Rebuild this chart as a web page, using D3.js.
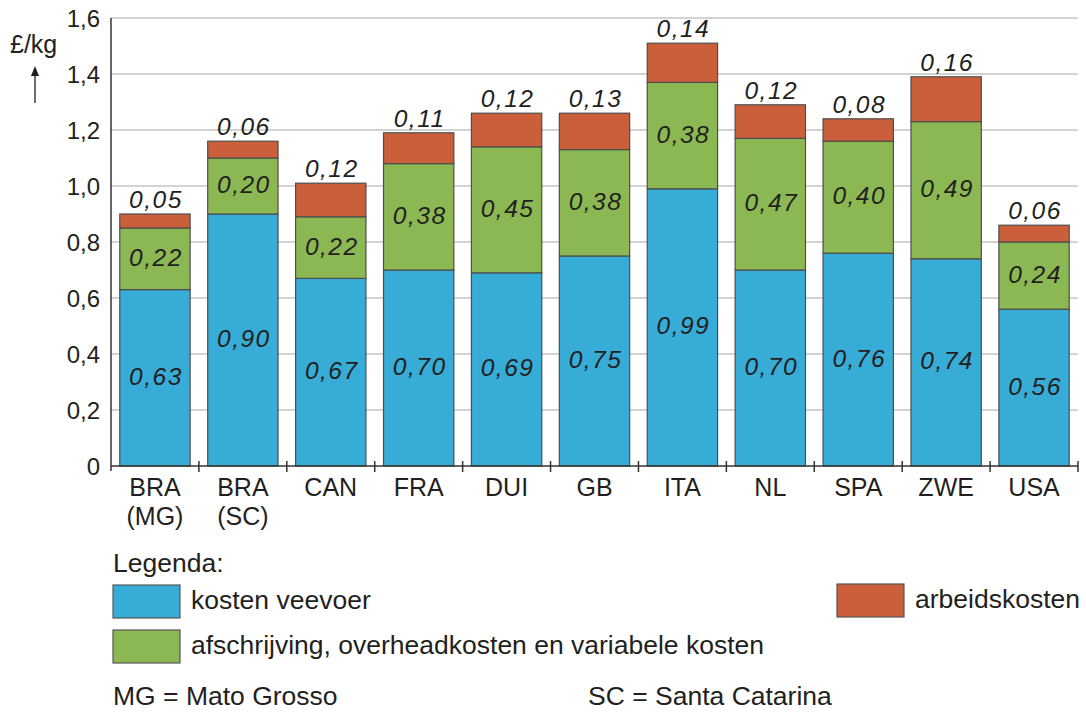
<!DOCTYPE html>
<html><head><meta charset="utf-8">
<script src="https://cdn.jsdelivr.net/npm/d3@7"></script>
<style>
body{margin:0;background:#fff;}
text{font-family:"Liberation Sans",Arial,sans-serif;fill:#231f20;}
</style></head>
<body><svg id="c" width="1086" height="713"></svg>
<script>
const categories = ["BRA\n(MG)","BRA\n(SC)","CAN","FRA","DUI","GB","ITA","NL","SPA","ZWE","USA"];
const veevoer = [0.63,0.90,0.67,0.70,0.69,0.75,0.99,0.70,0.76,0.74,0.56];
const afschrijving = [0.22,0.20,0.22,0.38,0.45,0.38,0.38,0.47,0.40,0.49,0.24];
const arbeid = [0.05,0.06,0.12,0.11,0.12,0.13,0.14,0.12,0.08,0.16,0.06];
const yTicks = [0,0.2,0.4,0.6,0.8,1.0,1.2,1.4,1.6];
const seriesNames = ["kosten veevoer","afschrijving, overheadkosten en variabele kosten","arbeidskosten"];
const colors = ["#37acd6","#8cb853","#cb5f3b"];

(function(){
const svg = d3.select("#c");
const pL = 111, pR = 1078, pT = 18, pB = 466;
const x = d3.scaleBand().domain(categories).range([pL,pR]).paddingInner(0.2).paddingOuter(0.1);
const y = d3.scaleLinear().domain([0,1.6]).range([pB,pT]);
const fmt = v => v.toFixed(2).replace(".",",");
const fmtTick = v => v===0 ? "0" : v.toFixed(1).replace(".",",");

// gridlines
svg.append("g").selectAll("line").data(yTicks.filter(d=>d>0)).join("line")
  .attr("x1",pL).attr("x2",pR).attr("y1",d=>y(d)).attr("y2",d=>y(d))
  .attr("stroke","#a8a8a8").attr("stroke-width",1.2);

// y tick labels
svg.append("g").selectAll("text").data(yTicks).join("text")
  .attr("x",100).attr("y",d=>y(d)+9).attr("text-anchor","end")
  .style("font-size","24px").text(fmtTick);

// stacked bars
const data = categories.map((c,i)=>({c, v:[veevoer[i],afschrijving[i],arbeid[i]]}));
const g = svg.append("g");
data.forEach(d=>{
  let base = 0;
  d.v.forEach((v,k)=>{
    g.append("rect").attr("x",x(d.c)).attr("width",x.bandwidth())
      .attr("y",y(base+v)).attr("height",y(base)-y(base+v))
      .attr("fill",colors[k]).attr("stroke","#4d4d4d").attr("stroke-width",1.2);
    const cx = x(d.c)+x.bandwidth()/2 + 1;
    const ty = k<2 ? (y(base)+y(base+v))/2+7 : y(base+v)-6;
    g.append("text").attr("x",cx).attr("y",ty)
      .attr("text-anchor","middle").style("font-size","24.5px").style("font-style","italic")
      .style("letter-spacing","1.5px").text(fmt(v));
    base += v;
  });
});

// axes lines
svg.append("line").attr("x1",pL).attr("x2",pL).attr("y1",pT).attr("y2",pB+5)
  .attr("stroke","#333").attr("stroke-width",1.5);
svg.append("line").attr("x1",pL).attr("x2",pR).attr("y1",pB).attr("y2",pB)
  .attr("stroke","#333").attr("stroke-width",1.5);
const bounds = d3.range(categories.length+1).map(i=>pL + i*(pR-pL)/categories.length);
svg.append("g").selectAll("line").data(bounds.slice(1)).join("line")
  .attr("x1",d=>d).attr("x2",d=>d).attr("y1",pB-5).attr("y2",pB+6)
  .attr("stroke","#333").attr("stroke-width",1.5);

// category labels
svg.append("g").selectAll("text").data(categories).join("text")
  .attr("x",d=>x(d)+x.bandwidth()/2).attr("y",496).attr("text-anchor","middle")
  .style("font-size","25px")
  .each(function(d){
    const parts = d.split("\n");
    d3.select(this).selectAll("tspan").data(parts).join("tspan")
      .attr("x",x(d)+x.bandwidth()/2).attr("dy",(p,i)=>i===0?0:29).text(p=>p);
  });

// unit
svg.append("text").attr("x",10).attr("y",53).style("font-size","25px").text("£/kg");
svg.append("line").attr("x1",35).attr("x2",35).attr("y1",103).attr("y2",72).attr("stroke","#231f20").attr("stroke-width",1.3);
svg.append("path").attr("d","M31,76 L35,66 L39,76 Z").attr("fill","#231f20");

// legend
svg.append("text").attr("x",113).attr("y",572).style("font-size","26.5px").text("Legenda:");
const leg = [
  {k:0,x:113,y:585,tx:191},
  {k:1,x:113,y:630,tx:191},
  {k:2,x:837,y:584,tx:915}
];
leg.forEach(l=>{
  svg.append("rect").attr("x",l.x).attr("y",l.y).attr("width",67).attr("height",33)
    .attr("fill",colors[l.k]).attr("stroke","#555").attr("stroke-width",1.2);
  svg.append("text").attr("x",l.tx).attr("y",l.y+24).style("font-size","26.5px").text(seriesNames[l.k]);
});
svg.append("text").attr("x",113).attr("y",705).style("font-size","26.5px").text("MG = Mato Grosso");
svg.append("text").attr("x",588).attr("y",705).style("font-size","26.5px").text("SC = Santa Catarina");
})();
</script></body></html>
